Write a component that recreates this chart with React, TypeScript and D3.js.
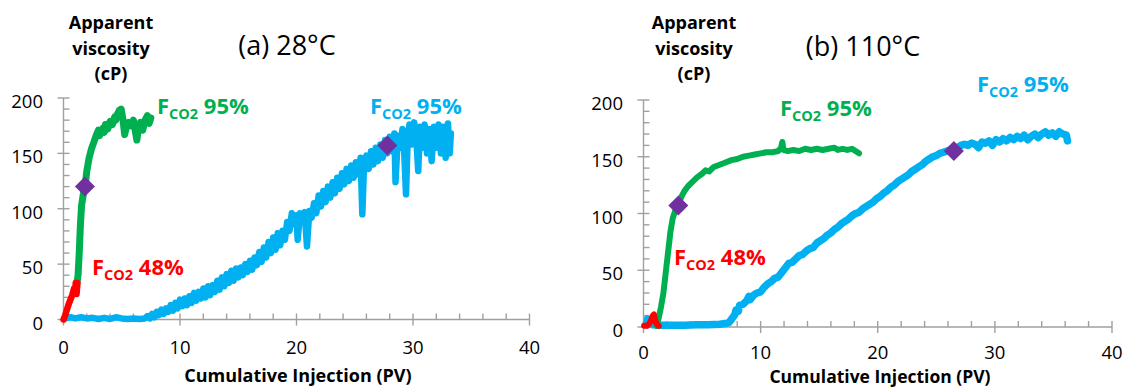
import React from 'react';
import * as d3 from 'd3';

type P = [number, number];

const xMajorTicks = [0, 10, 20, 30, 40];
const xMinorTicks = [2, 4, 6, 8, 12, 14, 16, 18, 22, 24, 26, 28, 32, 34, 36, 38];
const yMajorTicks = [0, 50, 100, 150, 200];
const yMinorTicks = [10, 20, 30, 40, 60, 70, 80, 90, 110, 120, 130, 140, 160, 170, 180, 190];
const panelTitles = ['(a) 28°C', '(b) 110°C'];
const yTitleLines = ['Apparent', 'viscosity', '(cP)'];
const xTitle = 'Cumulative Injection (PV)';

// (a) 28°C
const leftRed: P[] = [[0, 0], [0.15, 4], [0.3, 9], [0.45, 14], [0.6, 18], [0.75, 22], [0.9, 28], [1.0, 25], [1.05, 33], [1.12, 23], [1.2, 33]];
const leftGreen: P[] = [[1.15, 33], [1.25, 40], [1.35, 60], [1.45, 85], [1.55, 103], [1.7, 113], [1.85, 120], [2.0, 134], [2.2, 146], [2.4, 154], [2.6, 160], [2.8, 166], [3.0, 171], [3.1, 166], [3.2, 170], [3.4, 173], [3.5, 169], [3.6, 176], [3.8, 172], [4.0, 179], [4.2, 176], [4.4, 183], [4.5, 180], [4.6, 185], [4.8, 189], [4.95, 190], [5.1, 181], [5.25, 167], [5.4, 174], [5.6, 178], [5.8, 175], [6.0, 180], [6.15, 171], [6.3, 162], [6.45, 175], [6.6, 178], [6.8, 171], [7.0, 180], [7.2, 184], [7.35, 177], [7.5, 182]];
const leftCyan: P[] = [[0.2, 1], [0.6, 2], [1, 1], [1.5, 2], [2, 1], [2.5, 1.5], [3, 0.5], [3.5, 1.5], [4, 0.5], [4.5, 2], [5, 1], [5.5, 0.5], [6, 1], [6.5, 0.5], [7.0, 1], [7.2, 3], [7.4, 1], [7.6, 5], [7.8, 2], [8.0, 7], [8.2, 4], [8.4, 9], [8.6, 5], [8.8, 10], [9.0, 7], [9.2, 13], [9.4, 8], [9.6, 15], [9.8, 10], [10.0, 18], [10.2, 12], [10.4, 19], [10.6, 13], [10.8, 21], [11.0, 15], [11.2, 24], [11.4, 17], [11.6, 25], [11.8, 19], [12.0, 28], [12.2, 20], [12.4, 30], [12.6, 22], [12.8, 31], [13.0, 25], [13.2, 35], [13.4, 27], [13.6, 38], [13.8, 30], [14.0, 41], [14.2, 33], [14.4, 44], [14.6, 35], [14.8, 46], [15.0, 38], [15.2, 47], [15.4, 40], [15.6, 50], [15.8, 43], [16.0, 53], [16.2, 45], [16.4, 56], [16.6, 49], [16.8, 61], [17.0, 52], [17.2, 65], [17.4, 56], [17.6, 70], [17.8, 60], [18.0, 74], [18.2, 63], [18.4, 78], [18.6, 67], [18.8, 80], [19.0, 72], [19.2, 88], [19.4, 80], [19.6, 96], [19.8, 86], [20.0, 94], [20.1, 72], [20.3, 96], [20.5, 88], [20.7, 97], [20.9, 66], [21.1, 98], [21.3, 92], [21.5, 105], [21.7, 96], [21.9, 112], [22.1, 102], [22.3, 116], [22.5, 106], [22.7, 120], [22.9, 110], [23.1, 124], [23.3, 114], [23.5, 128], [23.7, 118], [23.9, 132], [24.1, 122], [24.3, 136], [24.5, 125], [24.7, 139], [24.9, 128], [25.1, 142], [25.3, 131], [25.5, 146], [25.65, 95], [25.8, 140], [26.0, 148], [26.2, 136], [26.4, 152], [26.6, 140], [26.8, 155], [27.0, 143], [27.2, 158], [27.4, 146], [27.6, 162], [27.8, 150], [28.0, 165], [28.2, 152], [28.4, 168], [28.5, 124], [28.7, 166], [28.9, 155], [29.1, 172], [29.25, 150], [29.4, 113], [29.55, 165], [29.7, 176], [29.9, 158], [30.1, 178], [30.3, 160], [30.45, 134], [30.6, 174], [30.8, 155], [31.0, 176], [31.2, 150], [31.4, 172], [31.6, 143], [31.8, 174], [32.0, 155], [32.2, 176], [32.4, 150], [32.6, 174], [32.8, 146], [33.0, 177], [33.15, 150], [33.25, 168]];
const leftMarkers: P[] = [[1.84, 120], [27.8, 157]];

// (b) 110°C
const rightRed: P[] = [[0.05, 1], [0.3, 1], [0.5, 3], [0.65, 6], [0.8, 10], [0.9, 11], [1.0, 6], [1.1, 3], [1.2, 2], [1.3, 1]];
const rightGreen: P[] = [[1.1, 1], [1.3, 8], [1.5, 18], [1.7, 30], [1.9, 48], [2.1, 66], [2.3, 84], [2.5, 96], [2.7, 102], [2.95, 107], [3.2, 114], [3.5, 120], [3.8, 124], [4.2, 128], [4.6, 132], [5, 135], [5.3, 138], [5.6, 137], [6, 141], [6.5, 143], [7, 145], [7.5, 147], [8, 148], [8.5, 150], [9, 151], [9.5, 152], [10, 153], [10.5, 154], [11, 154], [11.5, 155], [11.75, 158], [11.85, 163], [11.95, 156], [12.3, 155], [12.8, 156], [13.3, 155], [13.8, 157], [14.3, 156], [14.8, 157], [15.3, 156], [15.8, 157], [16.3, 158], [16.6, 156], [17, 157], [17.4, 156], [17.8, 157], [18.1, 155], [18.4, 153]];
const rightCyan: P[] = [[0.25, 2], [0.35, 7], [0.5, 4], [0.8, 2], [1.5, 1.5], [2.5, 1.5], [3.5, 1.5], [4.5, 2], [5.5, 2], [6.5, 2.5], [7.0, 3], [7.3, 4], [7.6, 8], [7.8, 11], [7.9, 15], [8.1, 14], [8.2, 19], [8.5, 20], [8.8, 23], [9.0, 27], [9.1, 24], [9.4, 28], [9.7, 30], [10, 31], [10.3, 35], [10.6, 38], [10.9, 40], [11.2, 43], [11.5, 44], [11.8, 48], [12.1, 52], [12.4, 56], [12.7, 57], [13, 60], [13.3, 63], [13.6, 64], [13.9, 67], [14.2, 69], [14.5, 70], [14.8, 74], [15.1, 76], [15.4, 78], [15.7, 81], [16, 83], [16.3, 86], [16.6, 88], [16.9, 91], [17.2, 93], [17.5, 95], [17.8, 98], [18.1, 100], [18.4, 101], [18.7, 104], [19, 106], [19.3, 108], [19.6, 110], [19.9, 113], [20.2, 115], [20.5, 118], [20.8, 120], [21.1, 123], [21.4, 125], [21.7, 128], [22, 130], [22.3, 132], [22.6, 134], [22.9, 137], [23.2, 139], [23.5, 141], [23.8, 143], [24.1, 146], [24.4, 148], [24.7, 150], [25, 151], [25.3, 153], [25.6, 154], [25.9, 155], [26.2, 156], [26.5, 156], [26.8, 158], [27.1, 160], [27.4, 161], [27.7, 160], [28, 162], [28.3, 161], [28.6, 158], [28.9, 163], [29.2, 162], [29.5, 164], [29.8, 160], [30.1, 165], [30.4, 163], [30.7, 166], [31, 164], [31.3, 167], [31.6, 165], [31.9, 168], [32.2, 166], [32.5, 169], [32.8, 165], [33.1, 168], [33.4, 170], [33.7, 167], [34, 170], [34.3, 172], [34.6, 169], [34.9, 171], [35.2, 168], [35.5, 172], [35.8, 170], [36.1, 169], [36.2, 164]];
const rightMarkers: P[] = [[2.97, 107], [26.5, 155]];

const C = { green: '#00b050', red: '#ff0000', cyan: '#00b0f0', purple: '#7030a0', axis: '#a0a0a0', text: '#000' };
const FONT = "'Open Sans', 'Noto Sans', sans-serif";

interface LabelSpec { x: number; y: number; color: string; pct: string }
interface PanelSpec {
  title: string;
  titleX: number; titleY: number;
  yTitleX: number;
  xRange: [number, number]; yRange: [number, number];
  xTitleX: number; xTitleY: number; xTitleSize: number;
  xLabelDy: number;
  yLabelX: number;
  cyan: P[]; green: P[]; red: P[]; markers: P[];
  widths: { cyan: number; green: number; red: number };
  labels: LabelSpec[];
}

const panels: PanelSpec[] = [
  {
    title: panelTitles[0], titleX: 287, titleY: 55, yTitleX: 111,
    xRange: [63.5, 529.5], yRange: [319.5, 98], xTitleX: 298, xTitleY: 382, xTitleSize: 18, xLabelDy: 34.5, yLabelX: 43,
    cyan: leftCyan, green: leftGreen, red: leftRed, markers: leftMarkers,
    widths: { cyan: 6.5, green: 7, red: 6.5 },
    labels: [
      { x: 157, y: 114, color: C.green, pct: '95%' },
      { x: 370, y: 114, color: C.cyan, pct: '95%' },
      { x: 92, y: 274.5, color: C.red, pct: '48%' },
    ],
  },
  {
    title: panelTitles[1], titleX: 863, titleY: 56, yTitleX: 694,
    xRange: [643.5, 1112], yRange: [327, 100], xTitleX: 880, xTitleY: 382.5, xTitleSize: 17.5, xLabelDy: 32, yLabelX: 623,
    cyan: rightCyan, green: rightGreen, red: rightRed, markers: rightMarkers,
    widths: { cyan: 7.5, green: 6, red: 6 },
    labels: [
      { x: 780, y: 116, color: C.green, pct: '95%' },
      { x: 977, y: 92, color: C.cyan, pct: '95%' },
      { x: 674, y: 265, color: C.red, pct: '48%' },
    ],
  },
];

function FLabel({ x, y, color, pct }: LabelSpec) {
  return (
    <text x={x} y={y} fill={color} fontFamily={FONT} fontWeight="bold" fontSize={22}>
      F<tspan fontSize={14.5} dy={5}>CO2</tspan><tspan dy={-5}>{' ' + pct}</tspan>
    </text>
  );
}

function Panel({ p }: { p: PanelSpec }) {
  const x = d3.scaleLinear().domain([0, 40]).range(p.xRange);
  const y = d3.scaleLinear().domain([0, 200]).range(p.yRange);
  const line = d3.line<P>().x(d => x(d[0])).y(d => y(d[1]));
  const x0 = x(0), y0 = y(0);
  const tick = 6;
  return (
    <g>
      <text x={p.titleX} y={p.titleY} textAnchor="middle" fontFamily={FONT} fontSize={27} fill={C.text}>{p.title}</text>
      {yTitleLines.map((t, i) => (
        <text key={t} x={p.yTitleX} y={29 + i * 25.5} textAnchor="middle" fontFamily={FONT} fontWeight="bold" fontSize={18} fill={C.text}>{t}</text>
      ))}
      <g stroke={C.axis} strokeWidth={1.4} fill="none">
        <line x1={x0} x2={x0} y1={y(200)} y2={y0} />
        <line x1={x0} x2={x(40)} y1={y0} y2={y0} />
        {yMajorTicks.map(v => <line key={'ym' + v} x1={x0 - tick} x2={x0 + tick} y1={y(v)} y2={y(v)} />)}
        {yMinorTicks.map(v => <line key={'yn' + v} x1={x0} x2={x0 + tick} y1={y(v)} y2={y(v)} />)}
        {xMajorTicks.map(v => <line key={'xm' + v} x1={x(v)} x2={x(v)} y1={y0 - tick} y2={y0 + tick} />)}
        {xMinorTicks.map(v => <line key={'xn' + v} x1={x(v)} x2={x(v)} y1={y0 - tick} y2={y0} />)}
      </g>
      {yMajorTicks.map(v => (
        <text key={'yl' + v} x={p.yLabelX} y={y(v) + 10} textAnchor="end" fontFamily={FONT} fontSize={18.5} fill={C.text}>{v}</text>
      ))}
      {xMajorTicks.map(v => (
        <text key={'xl' + v} x={x(v)} y={y0 + p.xLabelDy} textAnchor="middle" fontFamily={FONT} fontSize={18.5} fill={C.text}>{v}</text>
      ))}
      <text x={p.xTitleX} y={p.xTitleY} textAnchor="middle" fontFamily={FONT} fontWeight="bold" fontSize={p.xTitleSize} fill={C.text}>{xTitle}</text>
      <path d={line(p.cyan) || ''} fill="none" stroke={C.cyan} strokeWidth={p.widths.cyan} strokeLinejoin="round" strokeLinecap="round" />
      <path d={line(p.green) || ''} fill="none" stroke={C.green} strokeWidth={p.widths.green} strokeLinejoin="round" strokeLinecap="round" />
      <path d={line(p.red) || ''} fill="none" stroke={C.red} strokeWidth={p.widths.red} strokeLinejoin="round" strokeLinecap="round" />
      {p.markers.map((m, i) => {
        const cx = x(m[0]), cy = y(m[1]), r = 10;
        return <path key={i} d={`M${cx},${cy - r}L${cx + r},${cy}L${cx},${cy + r}L${cx - r},${cy}Z`} fill={C.purple} />;
      })}
      {p.labels.map((l, i) => <FLabel key={i} {...l} />)}
    </g>
  );
}

export default function App() {
  return (
    <svg width={1124} height={388} viewBox="0 0 1124 388" style={{ position: 'absolute', left: 0, top: 0, background: '#fff' }}>
      <rect width={1124} height={388} fill="#fff" />
      {panels.map((p, i) => <Panel key={i} p={p} />)}
    </svg>
  );
}
